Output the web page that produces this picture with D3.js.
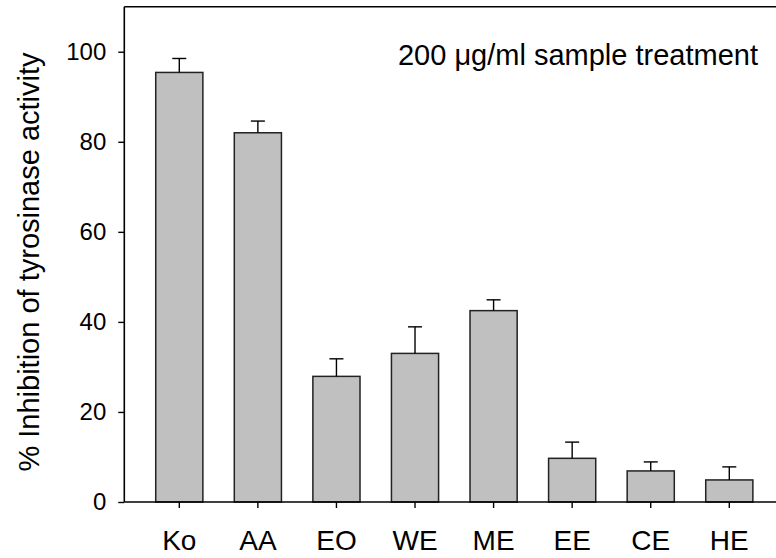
<!DOCTYPE html>
<html>
<head>
<meta charset="utf-8">
<script src="https://cdn.jsdelivr.net/npm/d3@7"></script>
<style>
  body { margin: 0; background: #fff; }
  svg { display: block; }
  text { font-family: "Liberation Sans", Arial, sans-serif; fill: #000; }
</style>
</head>
<body>
<div id="chart"></div>
<script>
const categories = ["Ko", "AA", "EO", "WE", "ME", "EE", "CE", "HE"];
const inhibition = [95.4, 82.0, 27.9, 33.0, 42.5, 9.7, 6.9, 4.9];
const errors = [3.1, 2.6, 3.9, 5.9, 2.4, 3.6, 2.0, 2.9];
const yTicks = [0, 20, 40, 60, 80, 100];

const width = 776, height = 558;

const svg = d3.select("#chart")
    .append("svg")
    .attr("width", width)
    .attr("height", height);

const x = d3.scaleBand()
    .domain(categories)
    .range([124.3, 784.3])
    .paddingInner(0.4)
    .paddingOuter(0.4);

const y = d3.scaleLinear()
    .domain([0, 110])
    .range([502, 6.7]);

const data = categories.map((c, i) => ({ name: c, value: inhibition[i], err: errors[i] }));

// bars
svg.append("g")
    .selectAll("rect")
    .data(data)
    .join("rect")
    .attr("x", d => x(d.name))
    .attr("y", d => y(d.value))
    .attr("width", x.bandwidth())
    .attr("height", d => y(0) - y(d.value))
    .attr("fill", "#c0c0c0")
    .attr("stroke", "#222")
    .attr("stroke-width", 1.5);

// error bars (upper only)
const eb = svg.append("g")
    .attr("stroke", "#000")
    .attr("stroke-width", 1.4);
data.forEach(d => {
    const cx = x(d.name) + x.bandwidth() / 2;
    eb.append("line")
        .attr("x1", cx).attr("x2", cx)
        .attr("y1", y(d.value)).attr("y2", y(d.value + d.err));
    eb.append("line")
        .attr("x1", cx - 7).attr("x2", cx + 7)
        .attr("y1", y(d.value + d.err)).attr("y2", y(d.value + d.err));
});

// axes
const yAxis = svg.append("g")
    .attr("transform", `translate(${x.range()[0]},0)`)
    .call(d3.axisLeft(y).tickValues(yTicks).tickSize(6).tickPadding(12));
yAxis.select(".domain").remove();
yAxis.selectAll("line").attr("stroke-width", 1.4);
yAxis.selectAll("text").style("font-size", "24px").attr("fill", "#000");

const xAxis = svg.append("g")
    .attr("transform", `translate(0,${y(0)})`)
    .call(d3.axisBottom(x).tickSize(6).tickPadding(22));
xAxis.select(".domain").remove();
xAxis.selectAll("line").attr("stroke-width", 1.4);
xAxis.selectAll("text").style("font-size", "28px").attr("fill", "#000");

// frame: left, top, bottom
const frame = svg.append("g").attr("stroke", "#000").attr("stroke-width", 1.6).attr("fill", "none");
frame.append("line")
    .attr("x1", x.range()[0]).attr("x2", x.range()[0])
    .attr("y1", y(110)).attr("y2", y(0));
frame.append("line")
    .attr("x1", x.range()[0]).attr("x2", x.range()[1])
    .attr("y1", y(110)).attr("y2", y(110));
frame.append("line")
    .attr("x1", x.range()[0]).attr("x2", x.range()[1])
    .attr("y1", y(0)).attr("y2", y(0));

// title inside plot
svg.append("text")
    .attr("x", 758)
    .attr("y", 65)
    .attr("text-anchor", "end")
    .style("font-size", "29px")
    .text("200 \u03bcg/ml sample treatment");

// y label
svg.append("text")
    .attr("transform", "translate(39,262) rotate(-90)")
    .attr("text-anchor", "middle")
    .style("font-size", "29px")
    .text("% Inhibition of tyrosinase activity");
</script>
</body>
</html>
